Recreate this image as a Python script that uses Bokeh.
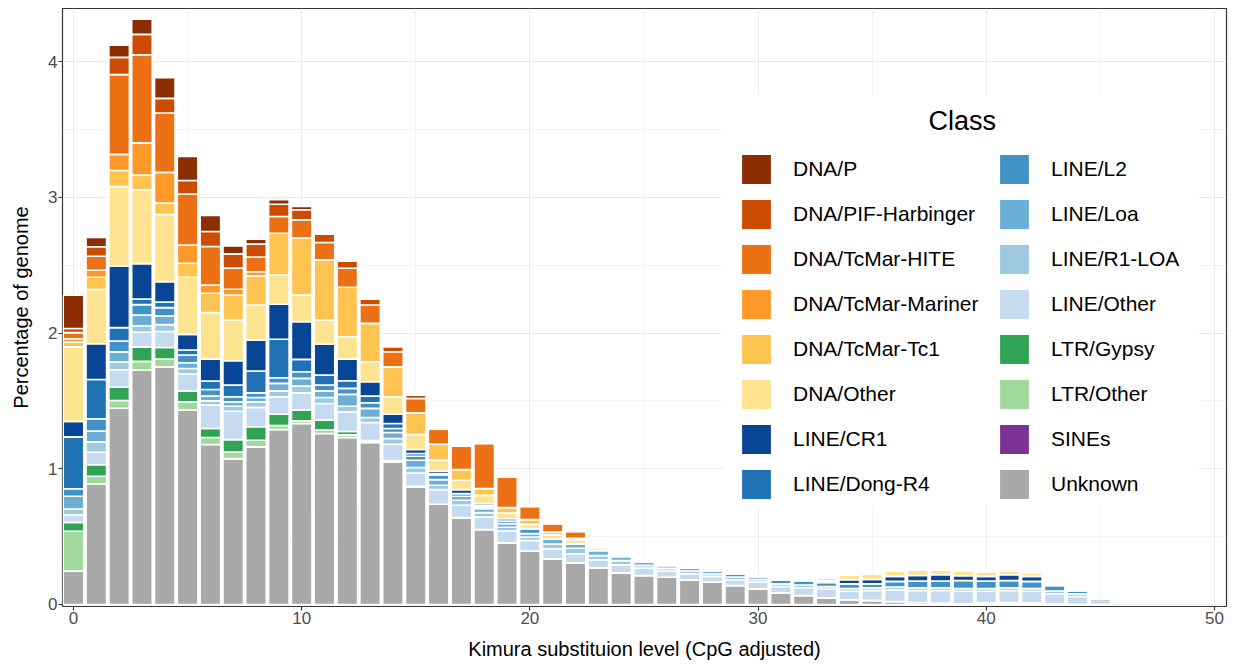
from bokeh.plotting import figure
from bokeh.models import (Range1d, Legend, LegendItem, Label, FixedTicker,
                          ColumnDataSource, BoxAnnotation)
from bokeh.embed import file_html
from bokeh.resources import INLINE

# ---------------- data ----------------
kimura = [0, 1, 2, 3, 4, 5, 6, 7, 8, 9, 10, 11, 12, 13, 14, 15, 16, 17, 18, 19,
          20, 21, 22, 23, 24, 25, 26, 27, 28, 29, 30, 31, 32, 33, 34, 35, 36, 37, 38, 39,
          40, 41, 42, 43, 44, 45]

unknown = [0.246, 0.89, 1.446, 1.729, 1.751, 1.432, 1.179, 1.075, 1.161, 1.289,
           1.334, 1.26, 1.23, 1.193, 1.05, 0.866, 0.738, 0.64, 0.553, 0.455,
           0.393, 0.337, 0.307, 0.271, 0.234, 0.214, 0.201, 0.182, 0.165, 0.14,
           0.116, 0.086, 0.066, 0.049, 0.034, 0.03, 0.022, 0.015, 0.01, 0.005,
           0.005, 0.005, 0.005, 0.004, 0.002, 0.001]
sines = [0, 0, 0, 0, 0, 0, 0, 0, 0, 0,
         0, 0, 0, 0, 0, 0, 0, 0, 0, 0,
         0, 0, 0, 0, 0, 0, 0, 0, 0, 0,
         0, 0, 0, 0, 0, 0, 0, 0, 0, 0,
         0, 0, 0, 0, 0, 0]
ltr_other = [0.294, 0.055, 0.057, 0.062, 0.057, 0.061, 0.051, 0.049, 0.049, 0.03,
             0.02, 0.025, 0.02, 0.01, 0.005, 0, 0, 0, 0, 0,
             0, 0, 0, 0, 0, 0, 0, 0, 0, 0,
             0, 0, 0, 0, 0, 0, 0, 0, 0, 0,
             0.008, 0.01, 0.008, 0, 0, 0]
ltr_gypsy = [0.065, 0.084, 0.098, 0.107, 0.085, 0.081, 0.067, 0.091, 0.099, 0.083,
             0.078, 0.073, 0.025, 0.005, 0.005, 0.005, 0, 0, 0, 0,
             0, 0, 0, 0, 0, 0, 0, 0, 0, 0,
             0, 0, 0, 0, 0, 0, 0, 0, 0, 0,
             0, 0, 0, 0, 0, 0]
line_other = [0.056, 0.093, 0.128, 0.108, 0.118, 0.123, 0.172, 0.209, 0.143, 0.128,
              0.127, 0.123, 0.144, 0.133, 0.121, 0.098, 0.108, 0.091, 0.091, 0.086,
              0.079, 0.074, 0.067, 0.059, 0.059, 0.054, 0.045, 0.044, 0.042, 0.042,
              0.049, 0.047, 0.057, 0.064, 0.064, 0.073, 0.086, 0.088, 0.093, 0.093,
              0.085, 0.088, 0.085, 0.075, 0.057, 0.038]
line_r1loa = [0.043, 0.076, 0.057, 0.048, 0.051, 0.042, 0.031, 0.037, 0.041, 0.044,
              0.05, 0.044, 0.042, 0.037, 0.042, 0.04, 0.032, 0.037, 0.033, 0.028,
              0.025, 0.035, 0.04, 0.03, 0.03, 0.02, 0.02, 0.02, 0.02, 0.02,
              0.02, 0.02, 0.02, 0.02, 0.02, 0.02, 0.02, 0.02, 0.02, 0.02,
              0.02, 0.02, 0.02, 0.02, 0.02, 0.005]
line_loa = [0.093, 0.079, 0.075, 0.079, 0.063, 0.042, 0.035, 0.032, 0.032, 0.055,
            0.057, 0.049, 0.087, 0.067, 0.044, 0.054, 0.042, 0.029, 0.029, 0.027,
            0.025, 0.036, 0.034, 0.039, 0.031, 0.024, 0.022, 0.022, 0.019, 0,
            0, 0, 0, 0, 0, 0, 0, 0, 0, 0,
            0, 0, 0, 0, 0, 0]
line_l2 = [0.056, 0.091, 0.08, 0.076, 0.062, 0.057, 0.049, 0.037, 0.034, 0.041,
           0.049, 0.042, 0.044, 0.041, 0.03, 0.029, 0.032, 0, 0.012, 0.018,
           0.037, 0, 0, 0, 0, 0, 0, 0, 0, 0.024,
           0.022, 0.029, 0.029, 0.029, 0.034, 0.029, 0.042, 0.049, 0.049, 0.059,
           0.054, 0.054, 0.052, 0.041, 0.024, 0]
line_dong = [0.382, 0.29, 0.099, 0.042, 0.042, 0.037, 0.062, 0.086, 0.161, 0.284,
             0.091, 0.074, 0.056, 0.049, 0.037, 0.02, 0.012, 0.02, 0.01, 0,
             0, 0, 0, 0, 0, 0, 0, 0, 0, 0,
             0, 0, 0, 0, 0, 0, 0, 0, 0, 0,
             0, 0, 0, 0, 0, 0]
line_cr1 = [0.113, 0.263, 0.452, 0.26, 0.15, 0.115, 0.162, 0.18, 0.228, 0.258,
            0.278, 0.229, 0.16, 0.106, 0.068, 0.03, 0.02, 0.029, 0.015, 0.018,
            0, 0, 0, 0, 0, 0, 0, 0, 0, 0,
            0, 0, 0, 0.012, 0.03, 0.032, 0.037, 0.042, 0.047, 0.035,
            0.035, 0.042, 0.037, 0, 0, 0]
dna_other = [0.55, 0.40, 0.587, 0.545, 0.494, 0.421, 0.342, 0.30, 0.259, 0.216,
             0.196, 0.177, 0.165, 0.147, 0.128, 0.11, 0.079, 0.069, 0.061, 0.042,
             0.031, 0.032, 0.03, 0.02, 0.015, 0.01, 0.01, 0, 0, 0,
             0, 0, 0, 0.02, 0.037, 0.042, 0.039, 0.042, 0.039, 0.039,
             0.037, 0.027, 0.029, 0.01, 0, 0]
dna_tc1 = [0.035, 0.09, 0.119, 0.108, 0.084, 0.103, 0.143, 0.184, 0.214, 0.307,
           0.42, 0.443, 0.364, 0.283, 0.221, 0.16, 0.118, 0.079, 0.05, 0.04,
           0.035, 0.02, 0.01, 0.01, 0, 0, 0, 0, 0, 0,
           0, 0, 0, 0, 0, 0, 0, 0, 0, 0,
           0, 0, 0, 0, 0, 0]
dna_mariner = [0.025, 0.052, 0.118, 0.237, 0.227, 0.135, 0.061, 0.043, 0.031, 0,
               0, 0, 0, 0, 0, 0, 0, 0, 0, 0,
               0, 0, 0, 0, 0, 0, 0, 0, 0, 0,
               0, 0, 0, 0, 0, 0, 0, 0, 0, 0,
               0, 0, 0, 0, 0, 0]
dna_hite = [0.045, 0.103, 0.588, 0.649, 0.437, 0.375, 0.283, 0.155, 0.107, 0.123,
            0.134, 0.128, 0.14, 0.136, 0.111, 0.106, 0.111, 0.172, 0.332, 0.226,
            0.098, 0.062, 0.051, 0, 0, 0, 0, 0, 0, 0,
            0, 0, 0, 0, 0, 0, 0, 0, 0, 0,
            0, 0, 0, 0, 0, 0]
dna_pif = [0.03, 0.07, 0.127, 0.15, 0.108, 0.1, 0.111, 0.105, 0.096, 0.091,
           0.074, 0.061, 0.054, 0.042, 0.037, 0.024, 0, 0, 0, 0,
           0, 0, 0, 0, 0, 0, 0, 0, 0, 0,
           0, 0, 0, 0, 0, 0, 0, 0, 0, 0,
           0, 0, 0, 0, 0, 0]
dna_p = [0.245, 0.068, 0.09, 0.113, 0.153, 0.177, 0.118, 0.059, 0.036, 0.033,
         0.024, 0.01, 0, 0, 0, 0, 0, 0, 0, 0,
         0, 0, 0, 0, 0, 0, 0, 0, 0, 0,
         0, 0, 0, 0, 0, 0, 0, 0, 0, 0,
         0, 0, 0, 0, 0, 0]

# stack order: bottom -> top
class_names = ["Unknown", "SINEs", "LTR/Other", "LTR/Gypsy", "LINE/Other",
               "LINE/R1-LOA", "LINE/Loa", "LINE/L2", "LINE/Dong-R4", "LINE/CR1",
               "DNA/Other", "DNA/TcMar-Tc1", "DNA/TcMar-Mariner", "DNA/TcMar-HITE",
               "DNA/PIF-Harbinger", "DNA/P"]
class_values = [unknown, sines, ltr_other, ltr_gypsy, line_other, line_r1loa,
                line_loa, line_l2, line_dong, line_cr1, dna_other, dna_tc1,
                dna_mariner, dna_hite, dna_pif, dna_p]
class_colors = ["#A9A9A9", "#7B3294", "#A1D99B", "#31A354", "#C6DBEF", "#9ECAE1",
                "#6BAED6", "#4292C6", "#2171B5", "#084594", "#FEE391", "#FEC44F",
                "#FE9929", "#EC7014", "#CC4C02", "#8C2D04"]

keys = ["c%d" % i for i in range(len(class_names))]
data = {"x": kimura}
for k, v in zip(keys, class_values):
    data[k] = v
source = ColumnDataSource(data)

FONT = "Liberation Sans"

p = figure(width=1234, height=664,
           x_range=Range1d(-0.482, 50.53), y_range=Range1d(-0.0148, 4.391),
           output_backend="svg", toolbar_location=None,
           min_border_left=62, min_border_right=8, min_border_top=8,
           min_border_bottom=58)
p.background_fill_color = "white"
p.border_fill_color = "white"
p.outline_line_color = "#333333"
p.outline_line_width = 1.2

renderers = p.vbar_stack(keys, x="x", width=0.9, source=source,
                         fill_color=class_colors, line_color="white",
                         line_width=1.6)

# grids
p.xaxis.ticker = FixedTicker(ticks=[0, 10, 20, 30, 40, 50],
                             minor_ticks=[5, 15, 25, 35, 45])
p.yaxis.ticker = FixedTicker(ticks=[0, 1, 2, 3, 4],
                             minor_ticks=[0.5, 1.5, 2.5, 3.5])
for g in (p.xgrid, p.ygrid):
    g.grid_line_color = "#EBEBEB"
    g.grid_line_width = 1.1
    g.minor_grid_line_color = "#EBEBEB"
    g.minor_grid_line_width = 0.6

for ax in (p.xaxis, p.yaxis):
    ax.axis_line_color = None
    ax.major_tick_line_color = "#333333"
    ax.major_tick_line_width = 1.1
    ax.major_tick_out = 4
    ax.major_tick_in = 0
    ax.minor_tick_line_color = None
    ax.major_label_text_font = FONT
    ax.major_label_text_font_size = "17px"
    ax.major_label_text_color = "#4D4D4D"
    ax.axis_label_text_font = FONT
    ax.axis_label_text_font_size = "20px"
    ax.axis_label_text_font_style = "normal"
    ax.axis_label_text_color = "black"

p.xaxis.axis_label = "Kimura substituion level (CpG adjusted)"
p.yaxis.axis_label = "Percentage of genome"
p.xaxis.major_label_standoff = 1
p.xaxis.axis_label_standoff = 11
p.yaxis.major_label_standoff = 1
p.yaxis.axis_label_standoff = 13

# legend background panel
box = BoxAnnotation(left=28.46, right=49.3, top=3.757, bottom=0.72,
                    fill_color="white", fill_alpha=1.0, line_color=None)
p.add_layout(box)

legend_order = ["DNA/P", "DNA/PIF-Harbinger", "DNA/TcMar-HITE", "DNA/TcMar-Mariner",
                "DNA/TcMar-Tc1", "DNA/Other", "LINE/CR1", "LINE/Dong-R4",
                "LINE/L2", "LINE/Loa", "LINE/R1-LOA", "LINE/Other",
                "LTR/Gypsy", "LTR/Other", "SINEs", "Unknown"]
items = [LegendItem(label=n, renderers=[renderers[class_names.index(n)]])
         for n in legend_order]
legend = Legend(items=items, ncols=2, location=(675, 103),
                glyph_width=38, glyph_height=38, label_height=38,
                label_width=195,
                spacing=7, label_standoff=18, padding=0, margin=0,
                label_text_font=FONT, label_text_font_size="21px",
                label_text_color="black",
                background_fill_alpha=0, border_line_alpha=0)
p.add_layout(legend, "center")

title = Label(x=38.95, y=3.565, text="Class", text_align="center",
              text_baseline="middle", text_font=FONT, text_font_size="27px",
              text_color="black")
p.add_layout(title)

open("out.html", "w").write(file_html(p, INLINE))
